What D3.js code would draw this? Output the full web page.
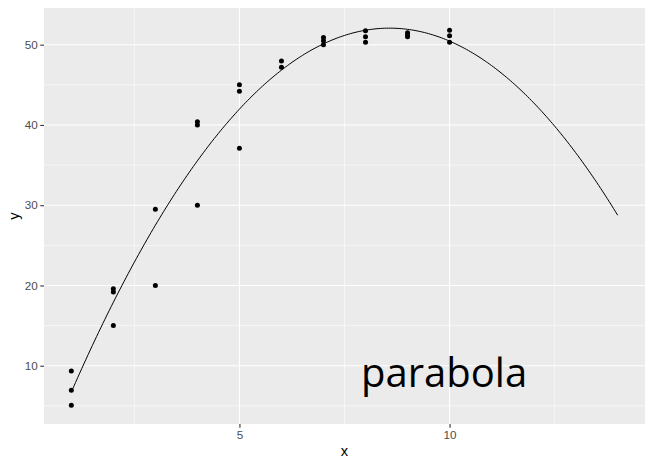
<!DOCTYPE html>
<html><head><meta charset="utf-8">
<script src="https://cdn.jsdelivr.net/npm/d3@7"></script>
<style>body{margin:0;background:#fff}svg{display:block}</style>
</head><body>
<svg id="c" width="645" height="462"></svg>
<script>
// data
const xs = [1,1,1, 2,2,2, 3,3, 4,4,4, 5,5,5, 6,6, 7,7,7, 8,8,8, 9,9,9, 10,10,10];
const ys = [9.34,6.93,5.07, 19.6,19.2,15.0, 29.5,20.0, 40.4,40.0,30.0, 45.0,44.2,37.1, 47.97,47.2, 50.9,50.5,50.0, 51.74,51.0,50.3, 51.5,51.2,51.0, 51.8,51.1,50.3];
const xTicks = [5, 10];
const xMinor = [2.5, 7.5, 12.5];
const yTicks = [10, 20, 30, 40, 50];
const yMinor = [5, 15, 25, 35, 45];
const curveRange = [1, 14];
const label = {text: "parabola", x: 9.87, y: 7.35};

const W = 645, H = 462;
const P = {l: 44, r: 645, t: 8, b: 424};
const x = d3.scaleLinear().domain([0.35, 14.65]).range([P.l, P.r]);
const y = d3.scaleLinear().domain([2.74, 54.57]).range([P.b, P.t]);

// quadratic least squares fit
function fitQuad(X, Y) {
  let S = [0,0,0,0,0], T = [0,0,0];
  X.forEach((xv, i) => {
    for (let k = 0; k < 5; k++) S[k] += Math.pow(xv, k);
    for (let k = 0; k < 3; k++) T[k] += Math.pow(xv, k) * Y[i];
  });
  const A = [[S[0],S[1],S[2],T[0]],[S[1],S[2],S[3],T[1]],[S[2],S[3],S[4],T[2]]];
  for (let i = 0; i < 3; i++) {
    for (let j = i + 1; j < 3; j++) {
      const f = A[j][i] / A[i][i];
      for (let k = i; k < 4; k++) A[j][k] -= f * A[i][k];
    }
  }
  const c = [0,0,0];
  for (let i = 2; i >= 0; i--) {
    let s = A[i][3];
    for (let k = i + 1; k < 3; k++) s -= A[i][k] * c[k];
    c[i] = s / A[i][i];
  }
  return c;
}
const coef = fitQuad(xs, ys);
const curveX = d3.range(curveRange[0], curveRange[1] + 1e-9, 0.05);
const curvePts = curveX.map(v => [v, coef[0] + coef[1]*v + coef[2]*v*v]);

const svg = d3.select("#c");
svg.append("rect").attr("x", P.l).attr("y", P.t).attr("width", P.r - P.l).attr("height", P.b - P.t).attr("fill", "#EBEBEB");

const g = svg.append("g");
g.selectAll(".mx").data(xMinor).join("line")
  .attr("x1", d => x(d)).attr("x2", d => x(d)).attr("y1", P.t).attr("y2", P.b)
  .attr("stroke", "#fff").attr("stroke-width", 0.55);
g.selectAll(".my").data(yMinor).join("line")
  .attr("y1", d => y(d)).attr("y2", d => y(d)).attr("x1", P.l).attr("x2", P.r)
  .attr("stroke", "#fff").attr("stroke-width", 0.55);
g.selectAll(".Mx").data(xTicks).join("line")
  .attr("x1", d => x(d)).attr("x2", d => x(d)).attr("y1", P.t).attr("y2", P.b)
  .attr("stroke", "#fff").attr("stroke-width", 1.1);
g.selectAll(".My").data(yTicks).join("line")
  .attr("y1", d => y(d)).attr("y2", d => y(d)).attr("x1", P.l).attr("x2", P.r)
  .attr("stroke", "#fff").attr("stroke-width", 1.1);

// axes
const xa = svg.append("g").attr("transform", `translate(0,${P.b})`)
  .call(d3.axisBottom(x).tickValues(xTicks).tickSize(3.7).tickPadding(2.5).tickFormat(d3.format("d")));
const ya = svg.append("g").attr("transform", `translate(${P.l},0)`)
  .call(d3.axisLeft(y).tickValues(yTicks).tickSize(3.7).tickPadding(2.5).tickFormat(d3.format("d")));
[xa, ya].forEach(a => {
  a.select(".domain").remove();
  a.selectAll(".tick line").attr("stroke", "#333").attr("stroke-width", 1.1);
  a.selectAll(".tick text").attr("fill", "#4D4D4D").style("font-family", "Liberation Sans, Arial, sans-serif").style("font-size", "11.7px");
});

// curve
svg.append("path").datum(curvePts)
  .attr("d", d3.line().x(d => x(d[0])).y(d => y(d[1])))
  .attr("fill", "none").attr("stroke", "#000").attr("stroke-width", 1);

// points
svg.selectAll(".pt").data(xs.map((v, i) => [v, ys[i]])).join("circle")
  .attr("cx", d => x(d[0])).attr("cy", d => y(d[1])).attr("r", 2.5).attr("fill", "#000");

// annotation
svg.append("text").attr("x", x(label.x)).attr("y", y(label.y))
  .attr("text-anchor", "middle").style("font-family", "Open Sans, sans-serif").style("font-size", "40px")
  .attr("fill", "#000").text(label.text);

// axis titles
svg.append("text").attr("x", (P.l + P.r) / 2).attr("y", 456).attr("text-anchor", "middle")
  .style("font-family", "Liberation Sans, Arial, sans-serif").style("font-size", "14.7px").attr("fill", "#000").text("x");
svg.append("text").attr("transform", `translate(19,${(P.t + P.b) / 2}) rotate(-90)`).attr("text-anchor", "middle")
  .style("font-family", "Liberation Sans, Arial, sans-serif").style("font-size", "14.7px").attr("fill", "#000").text("y");
</script>
</body></html>
